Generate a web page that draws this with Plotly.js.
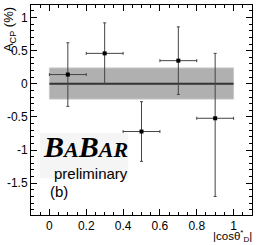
<!DOCTYPE html>
<html>
<head>
<meta charset="utf-8">
<script src="https://cdn.plot.ly/plotly-3.0.1.min.js"></script>
<style>html,body{margin:0;padding:0;background:#fff;}#chart{width:258px;height:245px;}</style>
</head>
<body>
<div id="chart"></div>
<script>
// Data
var binCenters = [0.1, 0.3, 0.5, 0.7, 0.9];
var binHalfWidth = [0.1, 0.1, 0.1, 0.1, 0.1];
var acpValues = [0.14, 0.46, -0.72, 0.35, -0.52];
var errUp = [0.48, 0.46, 0.45, 0.51, 0.98];
var errDown = [0.48, 0.46, 0.45, 0.51, 1.18];
var fitX = [0, 1];
var fitValue = [0, 0];
var fitBandLow = -0.23;
var fitBandHigh = 0.24;
var yTickVals = [-1.5, -1, -0.5, 0, 0.5, 1];
var yTickText = ["-1.5", "-1", "-0.5", "0", "0.5", "1"];
var xTickVals = [0, 0.2, 0.4, 0.6, 0.8, 1];
var xTickText = ["0", "0.2", "0.4", "0.6", "0.8", "1"];

var font = "Liberation Sans, Arial, sans-serif";

var traces = [
  {
    x: fitX, y: fitValue, mode: "lines", type: "scatter",
    line: {color: "#333333", width: 2}, hoverinfo: "skip", showlegend: false
  },
  {
    x: binCenters, y: acpValues, mode: "markers", type: "scatter",
    marker: {symbol: "square", size: 4, color: "#000"},
    error_y: {type: "data", symmetric: false, array: errUp, arrayminus: errDown, color: "#444", thickness: 1, width: 1.5},
    error_x: {type: "data", array: binHalfWidth, color: "#444", thickness: 1, width: 1.5},
    showlegend: false
  }
];

var axisCommon = {
  showgrid: false, zeroline: false, showline: true, linecolor: "#000", linewidth: 1,
  mirror: "ticks", ticks: "inside", ticklen: 6, tickwidth: 1, tickcolor: "#000",
  tickfont: {family: font, size: 12, color: "#000"}, tickmode: "array"
};

var layout = {
  width: 258, height: 245,
  margin: {l: 31, r: 6, t: 5, b: 30, pad: 0},
  paper_bgcolor: "#fff", plot_bgcolor: "#fff",
  showlegend: false,
  xaxis: Object.assign({}, axisCommon, {
    range: [-0.1, 1.1], tickvals: xTickVals, ticktext: xTickText,
    minor: {dtick: 0.05, tick0: 0, ticks: "inside", ticklen: 3, tickcolor: "#000", tickwidth: 1, showgrid: false}
  }),
  yaxis: Object.assign({}, axisCommon, {
    range: [-1.98, 1.19], tickvals: yTickVals, ticktext: yTickText,
    minor: {dtick: 0.1, tick0: 0, ticks: "inside", ticklen: 3, tickcolor: "#000", tickwidth: 1, showgrid: false}
  }),
  shapes: [
    {type: "rect", xref: "x", yref: "y", x0: fitX[0], x1: fitX[1], y0: fitBandLow, y1: fitBandHigh,
     fillcolor: "#b0b0b0", line: {color: "#c8c8c8", width: 1}, layer: "below"},
    {type: "rect", xref: "paper", yref: "paper", x0: 0.04, x1: 0.44, y0: 0.175, y1: 0.39,
     fillcolor: "#f5f5f5", line: {width: 0}, layer: "below"}
  ],
  annotations: [
    {text: "A<sub>CP</sub> (%)", xref: "paper", yref: "paper", x: -0.097, y: 1.0,
     xanchor: "center", yanchor: "top", textangle: -90, showarrow: false,
     font: {family: font, size: 13, color: "#000"}},
    {text: "|cosθ<sup>*</sup><sub>D</sub>|", xref: "paper", yref: "paper", x: 1.01, y: -0.052,
     xanchor: "right", yanchor: "top", showarrow: false,
     font: {family: font, size: 11.5, color: "#000"}},
    {text: "<b><i>B<span style='font-size:22px'>A</span>B<span style='font-size:22px'>AR</span></i></b>",
     xref: "paper", yref: "paper", x: 0.045, y: 0.415, xanchor: "left", yanchor: "top", showarrow: false,
     font: {family: "Liberation Serif, Times New Roman, serif", size: 30, color: "#000"}},
    {text: "preliminary", xref: "paper", yref: "paper", x: 0.095, y: 0.2, xanchor: "left", yanchor: "middle", showarrow: false,
     font: {family: font, size: 15, color: "#000"}},
    {text: "(b)", xref: "paper", yref: "paper", x: 0.075, y: 0.112, xanchor: "left", yanchor: "middle", showarrow: false,
     font: {family: font, size: 15, color: "#000"}}
  ]
};

Plotly.newPlot("chart", traces, layout, {displayModeBar: false, staticPlot: true});
</script>
</body>
</html>
